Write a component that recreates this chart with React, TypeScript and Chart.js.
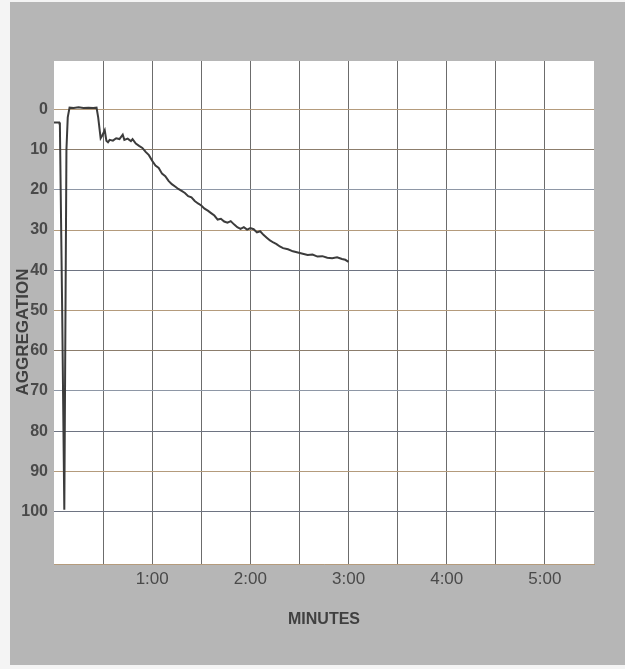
import React, { useEffect, useRef } from "react";
import { Chart, registerables } from "chart.js";

Chart.register(...registerables);

// time in seconds
const times = [
  0, 3.2, 3.6, 5.0, 6.3, 6.7, 7.6, 8.4, 9.5, 12,
  15, 18, 21, 24, 26, 27, 28.5, 29.5, 31, 32,
  33, 34, 36, 38, 40, 42, 43, 45, 47, 48,
  50, 52, 54, 56, 58, 60, 62, 64, 66, 68,
  70, 72, 74, 76, 78, 80, 82, 84, 86, 88,
  90, 92, 94, 96, 98, 100, 102, 104, 106, 108,
  110, 112, 114, 116, 118, 120, 122, 124, 126, 128,
  130, 132, 134, 136, 138, 140, 143, 146, 149, 152,
  155, 158, 161, 164, 167, 170, 173, 176, 178, 180,
];

// aggregation %
const aggregation = [
  3.3, 3.3, 4, 50, 99.5, 99.5, 10, 2, -0.4, -0.3,
  -0.5, -0.3, -0.4, -0.3, -0.4, 2, 7.2, 6.5, 5.2, 7.8,
  8.2, 7.6, 7.8, 7.2, 7.4, 6.3, 7.6, 7.3, 7.9, 7.4,
  8.5, 9.1, 9.6, 10.6, 11.4, 12.8, 14.0, 14.6, 16.0, 16.6,
  17.8, 18.6, 19.2, 19.8, 20.3, 20.8, 21.6, 21.9, 22.8, 23.4,
  23.9, 24.7, 25.2, 25.8, 26.4, 27.4, 27.2, 27.9, 28.2, 27.8,
  28.6, 29.3, 29.7, 29.3, 29.9, 29.5, 29.8, 30.6, 30.3, 31.2,
  31.9, 32.6, 33.1, 33.5, 34.1, 34.5, 34.8, 35.3, 35.6, 35.9,
  36.2, 36.1, 36.6, 36.5, 36.9, 37.0, 36.8, 37.2, 37.4, 37.9,
];

const yTicks = [0, 10, 20, 30, 40, 50, 60, 70, 80, 90, 100];
const xTickLabels: Record<number, string> = { 60: "1:00", 120: "2:00", 180: "3:00", 240: "4:00", 300: "5:00" };

const TAN = "#b49b7c";
const DARK_TAN = "#8c7d6c";
const BLUE_GREY = "#8e97a6";
const DARK_BLUE = "#6e7482";
const hGridColors: Record<number, string> = {
  0: TAN, 10: DARK_TAN, 20: BLUE_GREY, 30: TAN, 40: DARK_BLUE, 50: TAN,
  60: DARK_TAN, 70: BLUE_GREY, 80: DARK_BLUE, 90: TAN, 100: DARK_BLUE,
};

const FONT = "'Liberation Sans', Arial, sans-serif";

const backgroundPlugin = {
  id: "paperBg",
  beforeDraw(chart: any) {
    const { ctx, chartArea } = chart;
    ctx.save();
    ctx.fillStyle = "#f4f4f4";
    ctx.fillRect(0, 0, chart.width, chart.height);
    ctx.fillStyle = "#b6b6b6";
    ctx.fillRect(10, 2, chart.width - 10, chart.height - 6);
    ctx.fillStyle = "#ffffff";
    ctx.fillRect(chartArea.left, chartArea.top, chartArea.right - chartArea.left, chartArea.bottom - chartArea.top);
    ctx.restore();
  },
  afterDraw(chart: any) {
    const { ctx, chartArea } = chart;
    ctx.save();
    ctx.fillStyle = "#404040";
    ctx.font = `bold 16px ${FONT}`;
    ctx.textAlign = "center";
    ctx.textBaseline = "middle";
    ctx.fillText("MINUTES", (chartArea.left + chartArea.right) / 2, 620);
    ctx.translate(23, 332);
    ctx.rotate(-Math.PI / 2);
    ctx.font = `bold 17px ${FONT}`;
    ctx.fillText("AGGREGATION", 0, 0);
    ctx.restore();
  },
};

export default function App() {
  const ref = useRef<HTMLCanvasElement | null>(null);
  useEffect(() => {
    if (!ref.current) return;
    const points = times.map((t, i) => ({ x: t, y: aggregation[i] }));
    const chart = new Chart(ref.current, {
      type: "line",
      data: {
        datasets: [
          {
            data: points,
            borderColor: "#3c3c3c",
            borderWidth: 2,
            pointRadius: 0,
            tension: 0,
            fill: false,
          },
        ],
      },
      options: {
        responsive: false,
        animation: false,
        layout: { padding: { left: 0, top: 61, right: 31, bottom: 0 } },
        plugins: { legend: { display: false }, tooltip: { enabled: false } },
        scales: {
          x: {
            type: "linear",
            min: 0,
            max: 330,
            border: { display: true, color: TAN, width: 1 },
            afterFit: (s: any) => { s.height = 105; },
            afterBuildTicks: (s: any) => {
              const arr = [];
              for (let v = 0; v <= 330; v += 30) arr.push({ value: v });
              s.ticks = arr;
            },
            ticks: {
              autoSkip: false,
              maxRotation: 0,
              padding: 5,
              color: "#4a4a4a",
              font: { family: FONT, size: 17 },
              callback: (v: any) => xTickLabels[v as number] ?? "",
            },
            grid: {
              drawTicks: false,
              lineWidth: 1,
              color: (c: any) => (c.tick && (c.tick.value === 0 || c.tick.value === 330) ? "rgba(0,0,0,0)" : "#6c6c6c"),
            },
          },
          y: {
            type: "linear",
            reverse: true,
            min: -12,
            max: 113,
            border: { display: false },
            afterFit: (s: any) => { s.width = 54; },
            afterBuildTicks: (s: any) => { s.ticks = yTicks.map((v) => ({ value: v })); },
            ticks: {
              autoSkip: false,
              padding: 6,
              color: "#4a4a4a",
              font: { family: FONT, size: 16, weight: "bold" },
              callback: (v: any) => String(v),
            },
            grid: {
              drawTicks: false,
              lineWidth: 1,
              color: (c: any) => (c.tick ? hGridColors[c.tick.value] ?? "rgba(0,0,0,0)" : "rgba(0,0,0,0)"),
            },
          },
        },
      },
      plugins: [backgroundPlugin],
    } as any);
    return () => chart.destroy();
  }, []);
  return (
    <div style={{ position: "absolute", left: 0, top: 0, width: 625, height: 669 }}>
      <canvas ref={ref} width={625} height={669} style={{ display: "block", width: 625, height: 669 }} />
    </div>
  );
}
